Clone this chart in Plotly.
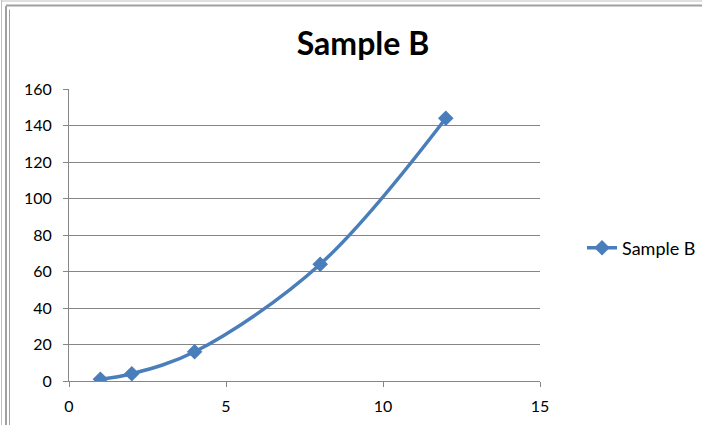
import plotly.graph_objects as go

x_vals = [1, 2, 4, 8, 12]
y_vals = [1, 4, 16, 64, 144]
series_name = "Sample B"
title_text = "Sample B"

W, H = 702, 425
L, R, T, B = 69, 162, 89, 44
pw, ph = W - L - R, H - T - B

def px(xp):
    return (xp - L) / pw

def py(yp):
    return (H - B - yp) / ph

fig = go.Figure()
fig.add_trace(go.Scatter(
    x=x_vals, y=y_vals, name=series_name, mode="lines+markers",
    line=dict(color="#4A7EBB", width=3.5, shape="spline", smoothing=1),
    marker=dict(symbol="diamond", size=12, color="#4A7EBB"),
))

font_family = "Lato, Open Sans, Liberation Sans, sans-serif"
axis_common = dict(
    showline=True, linecolor="#868686", linewidth=1,
    ticks="outside", ticklen=5, tickcolor="#868686",
    tickfont=dict(family=font_family, size=16, color="#000000"),
    zeroline=False, automargin=False,
)
fig.update_xaxes(range=[0, 15], dtick=5, tick0=0, showgrid=False,
                 ticklabelstandoff=6, **axis_common)
fig.update_yaxes(range=[0, 160], dtick=20, tick0=0, showgrid=True,
                 gridcolor="#868686", gridwidth=1, ticksuffix="\u2002", **axis_common)

shapes = []
gray = "#A0A0A0"
for xp, c, w, ytop in [(1.5, "#C0C0C0", 1, 0), (6, gray, 2, 6), (9.5, gray, 1, 9.5)]:
    shapes.append(dict(type="line", xref="paper", yref="paper",
                       x0=px(xp), x1=px(xp), y0=py(H + 5), y1=py(ytop),
                       line=dict(color=c, width=w)))
for yp, c, w, x0p in [(1, "#C0C0C0", 1, 1.5), (5.5, gray, 2, 6)]:
    shapes.append(dict(type="line", xref="paper", yref="paper",
                       x0=px(x0p), x1=px(W + 5), y0=py(yp), y1=py(yp),
                       line=dict(color=c, width=w)))

fig.update_layout(
    width=W, height=H,
    margin=dict(l=L, r=R, t=T, b=B, autoexpand=False),
    paper_bgcolor="white", plot_bgcolor="white",
    title=dict(text="<b>" + title_text + "</b>", xref="container", x=363 / W,
               xanchor="center", yref="container", y=1 - 44 / H, yanchor="middle",
               font=dict(family=font_family, size=32, color="#000000")),
    showlegend=True,
    legend=dict(x=px(582), y=py(248), xanchor="left", yanchor="middle",
                font=dict(family=font_family, size=18, color="#000000"),
                bgcolor="rgba(0,0,0,0)", itemwidth=30),
    shapes=shapes,
)

fig.write_html("out.html")
